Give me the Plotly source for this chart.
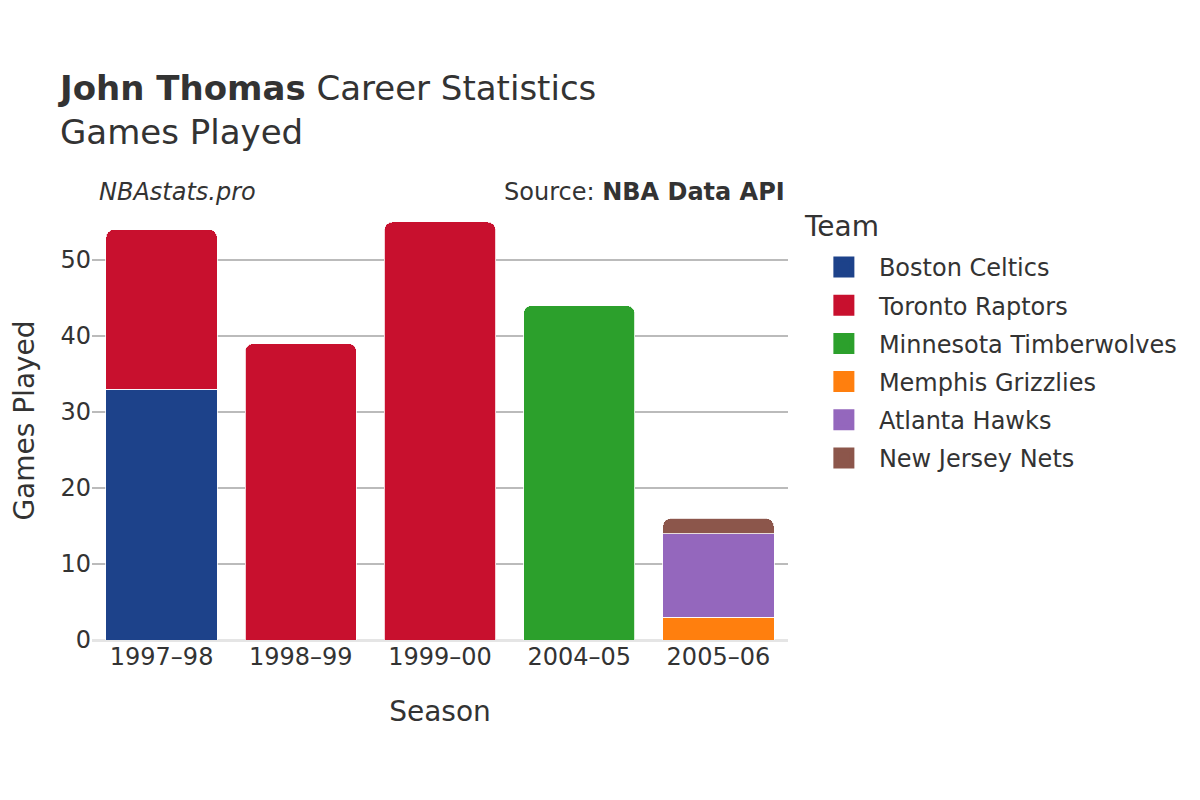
import plotly.graph_objects as go

seasons = ["1997–98", "1998–99", "1999–00", "2004–05", "2005–06"]
teams = ["Boston Celtics", "Toronto Raptors", "Minnesota Timberwolves",
         "Memphis Grizzlies", "Atlanta Hawks", "New Jersey Nets"]
colors = ["#1d428a", "#c8102e", "#2ca02c", "#ff7f0e", "#9467bd", "#8c564b"]
boston = [33, None, None, None, None]
toronto = [21, 39, 55, None, None]
minnesota = [None, None, None, 44, None]
memphis = [None, None, None, None, 3]
atlanta = [None, None, None, None, 11]
nets = [None, None, None, None, 2]
series = [boston, toronto, minnesota, memphis, atlanta, nets]

fig = go.Figure()
for name, vals, col in zip(teams, series, colors):
    fig.add_trace(go.Bar(
        x=seasons, y=vals, name=name, showlegend=False,
        marker=dict(color=col, line=dict(color="rgba(255,255,255,0.8)", width=1)),
    ))
# legend entries (square swatches)
for i, (name, col) in enumerate(zip(teams, colors)):
    fig.add_trace(go.Scatter(
        x=[None], y=[None], mode="markers", name=name, legendgroup=f"g{i}",
        marker=dict(symbol="square", size=16, color=col,
                    line=dict(color=col, width=5)),
    ))

font = "DejaVu Sans, Verdana, sans-serif"
fig.update_layout(
    barmode="stack",
    bargap=0.2,
    barcornerradius=8,
    width=1200, height=800,
    paper_bgcolor="white", plot_bgcolor="white",
    font=dict(family=font, size=24, color="#333333"),
    margin=dict(l=84, r=420, t=193, b=168),
    title=dict(
        text="<b>John Thomas</b> Career Statistics<br>Games Played",
        x=52 / 1200, xanchor="left", y=0.885, yanchor="top",
        font=dict(size=34, color="#333333"),
    ),
    xaxis=dict(
        title=dict(text="Season", font=dict(size=28), standoff=31),
        tickfont=dict(size=24), showgrid=False,
        ticks="", showline=False, automargin=False,
    ),
    yaxis=dict(
        title=dict(text="Games Played", font=dict(size=28), standoff=32),
        tickfont=dict(size=24), range=[0, 57.75],
        dtick=10, gridcolor="#bbbbbb", gridwidth=1.5,
        zeroline=True, zerolinecolor="#e5e5e5", zerolinewidth=3,
        ticks="", showline=False, automargin=False,
    ),
    legend=dict(
        font=dict(size=24), x=1.030, xref="paper", xanchor="left",
        y=0.900, yanchor="top", traceorder="grouped",
        itemsizing="trace", tracegroupgap=4, itemwidth=60,
    ),
    annotations=[
        dict(text="<i>NBAstats.pro</i>", xref="paper", yref="paper",
             x=0.007, y=1.0195, xanchor="left", yanchor="middle", showarrow=False,
             font=dict(size=24, color="#333333")),
        dict(text="Source: <b>NBA Data API</b>", xref="paper", yref="paper",
             x=0.998, y=1.0195, xanchor="right", yanchor="middle", showarrow=False,
             font=dict(size=24, color="#333333")),
        dict(text="Team", xref="paper", yref="paper",
             x=1.0201, y=0.941, xanchor="left", yanchor="middle", showarrow=False,
             font=dict(size=28, color="#333333")),
    ],
)

fig.write_html("out.html")
